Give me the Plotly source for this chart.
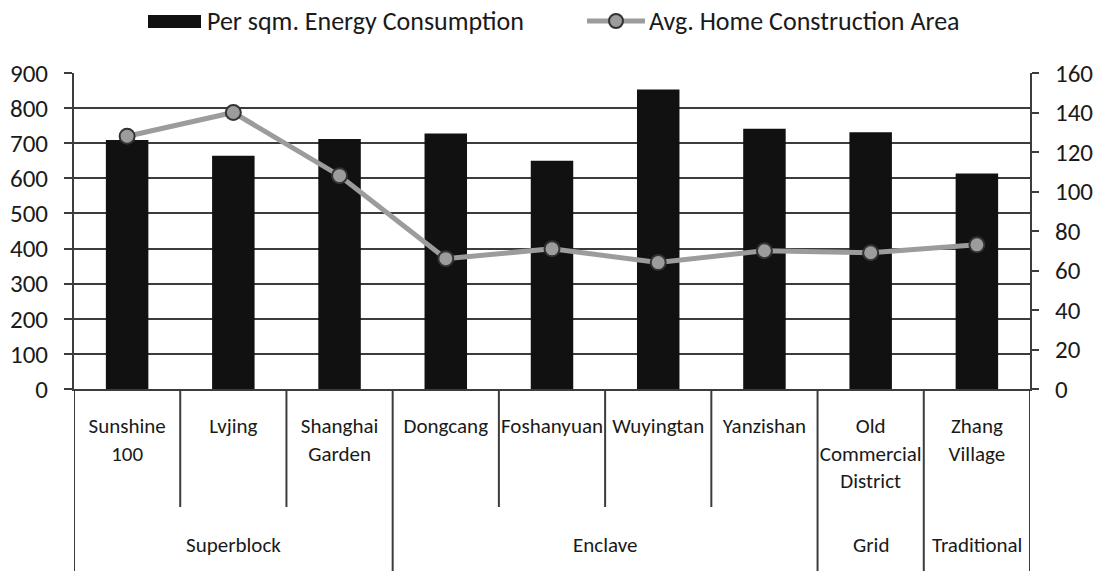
import plotly.graph_objects as go

# Neighbourhoods and their labels (line breaks as printed under the axis)
neighbourhoods = ["Sunshine 100", "Lvjing", "Shanghai Garden", "Dongcang", "Foshanyuan",
                  "Wuyingtan", "Yanzishan", "Old Commercial District", "Zhang Village"]
tick_labels = ["Sunshine<br>100", "Lvjing", "Shanghai<br>Garden", "Dongcang", "Foshanyuan",
               "Wuyingtan", "Yanzishan", "Old<br>Commercial<br>District", "Zhang<br>Village"]

# Urban form groups: name, first index, last index
group_names = ["Superblock", "Enclave", "Grid", "Traditional"]
group_first = [0, 3, 7, 8]
group_last = [2, 6, 7, 8]

# Series
energy_per_sqm = [709, 664, 712, 728, 650, 853, 741, 731, 614]
avg_home_area = [128, 140, 108, 66, 71, 64, 70, 69, 73]

FONT = "Calibri, Carlito, Lato, sans-serif"
INK = "#1a1a1a"
GRID = "#3c3c3c"
LINE_GREY = "#9c9c9c"

# plot-area pixel geometry
W, H = 1099, 571
L, R, T, B = 74, 69, 73, 182
PW, PH = W - L - R, H - T - B


def px_x(px):
    return (px - L) / PW


def px_y(py):
    return (H - B - py) / PH


fig = go.Figure()

fig.add_trace(go.Bar(
    x=neighbourhoods, y=energy_per_sqm, name="Per sqm. Energy Consumption",
    marker=dict(color="#111111", line=dict(width=0)), width=0.4,
    showlegend=False,
))

fig.add_trace(go.Scatter(
    x=neighbourhoods, y=avg_home_area, name="Avg. Home Construction Area",
    yaxis="y2", mode="lines+markers",
    line=dict(color=LINE_GREY, width=5),
    marker=dict(symbol="circle", size=15, color=LINE_GREY, line=dict(color="#333333", width=2)),
    showlegend=False,
))

shapes = []
n = len(neighbourhoods)
# dividers between neighbourhoods (short) and between groups (long)
group_edges = set([g - 0.5 for g in group_first] + [n - 0.5])
for i in range(n + 1):
    xb = i - 0.5
    long_edge = xb in group_edges
    shapes.append(dict(type="line", xref="x", yref="paper", x0=xb, x1=xb,
                       y0=0, y1=-0.62 if long_edge else px_y(507),
                       line=dict(color=GRID, width=2), layer="above"))

# legend drawn above the plot
leg_y = px_y(21)
shapes.append(dict(type="rect", xref="paper", yref="paper",
                   x0=px_x(148), x1=px_x(201), y0=px_y(28), y1=px_y(15),
                   fillcolor="#111111", line=dict(width=0)))
shapes.append(dict(type="line", xref="paper", yref="paper",
                   x0=px_x(587), x1=px_x(645), y0=leg_y, y1=leg_y,
                   line=dict(color=LINE_GREY, width=5)))
r = 7
shapes.append(dict(type="circle", xref="paper", yref="paper",
                   x0=px_x(616 - r), x1=px_x(616 + r), y0=px_y(21 + r), y1=px_y(21 - r),
                   fillcolor=LINE_GREY, line=dict(color="#333333", width=2)))

annotations = [
    dict(text="Per sqm. Energy Consumption", xref="paper", yref="paper",
         x=px_x(205), y=leg_y, xanchor="left", yanchor="middle", showarrow=False,
         font=dict(family=FONT, size=26, color=INK)),
    dict(text="Avg. Home Construction Area", xref="paper", yref="paper",
         x=px_x(647), y=leg_y, xanchor="left", yanchor="middle", showarrow=False,
         font=dict(family=FONT, size=26, color=INK)),
]
for name, a, b in zip(group_names, group_first, group_last):
    annotations.append(dict(text=name, xref="x", yref="paper", x=(a + b) / 2, y=px_y(545),
                            xanchor="center", yanchor="middle", showarrow=False,
                            font=dict(family=FONT, size=21, color=INK)))

fig.update_layout(
    width=W, height=H,
    margin=dict(l=L, r=R, t=T, b=B, pad=0, autoexpand=False),
    paper_bgcolor="white", plot_bgcolor="white",
    font=dict(family=FONT, color=INK),
    showlegend=False,
    bargap=0.6,
    xaxis=dict(
        type="category", categoryorder="array", categoryarray=neighbourhoods,
        range=[-0.5, n - 0.5], automargin=False,
        tickmode="array", tickvals=neighbourhoods, ticktext=tick_labels,
        ticks="", ticklabelstandoff=17,
        tickfont=dict(family=FONT, size=21, color=INK),
        showgrid=False, showline=True, linecolor=GRID, linewidth=2,
        zeroline=False,
    ),
    yaxis=dict(
        range=[0, 900], dtick=100, tick0=0, automargin=False,
        ticks="outside", ticklen=8, tickwidth=2, tickcolor=GRID,
        ticklabelstandoff=11,
        tickfont=dict(family=FONT, size=25, color=INK),
        showgrid=True, gridcolor=GRID, gridwidth=2,
        showline=True, linecolor=GRID, linewidth=2,
        zeroline=False,
    ),
    yaxis2=dict(
        range=[0, 160], dtick=20, tick0=0, overlaying="y", side="right", automargin=False,
        ticks="outside", ticklen=7, tickwidth=2, tickcolor=GRID,
        ticklabelstandoff=11,
        tickfont=dict(family=FONT, size=25, color=INK),
        showgrid=False, showline=True, linecolor=GRID, linewidth=2,
        zeroline=False,
    ),
    shapes=shapes,
    annotations=annotations,
)

fig.write_html("out.html")
